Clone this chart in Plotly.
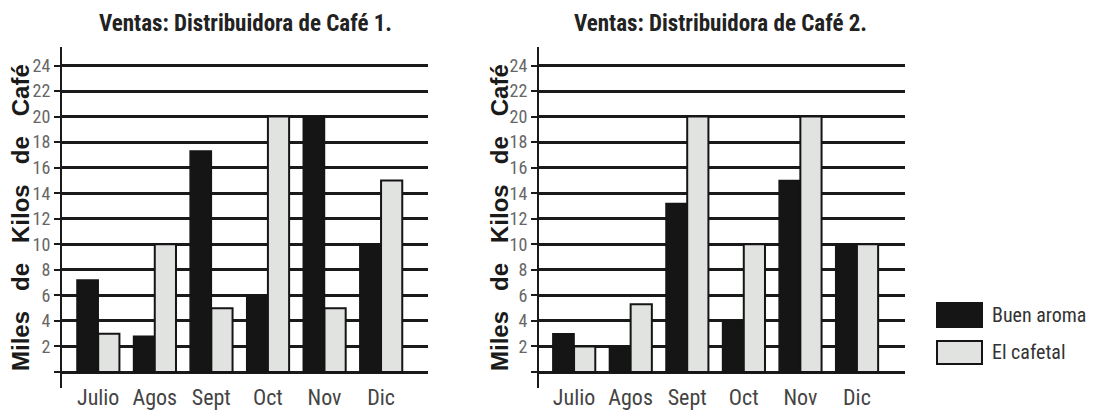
import plotly.graph_objects as go

meses = ["Julio", "Agos", "Sept", "Oct", "Nov", "Dic"]
series_names = ["Buen aroma", "El cafetal"]
d1_buen_aroma = [7.2, 2.8, 17.3, 6, 20, 10]
d1_el_cafetal = [3, 10, 5, 20, 5, 15]
d2_buen_aroma = [3, 2, 13.2, 4, 15, 10]
d2_el_cafetal = [2, 5.3, 20, 10, 20, 10]
y_ticks = list(range(0, 25, 2))
y_ticktext = [str(v) if v > 0 else "" for v in y_ticks]
titles = ["Ventas: Distribuidora de Café 1.", "Ventas: Distribuidora de Café 2."]
y_title = "Miles de Kilos de Café"

W, H = 1097, 413
OFF = 8  # page body margin offset
NARROW = "Liberation Sans Narrow, Arial Narrow, Roboto Condensed, Liberation Sans, sans-serif"
DARK = "#151515"
LIGHT = "#e1e3e1"

fig = go.Figure()
for k, (ba, ec) in enumerate([(d1_buen_aroma, d1_el_cafetal), (d2_buen_aroma, d2_el_cafetal)]):
    xa = "x" if k == 0 else "x2"
    ya = "y" if k == 0 else "y2"
    fig.add_trace(go.Bar(x=meses, y=ba, name=series_names[0], xaxis=xa, yaxis=ya,
                         marker=dict(color=DARK, line=dict(color=DARK, width=1.5)),
                         showlegend=False, offsetgroup="a"))
    fig.add_trace(go.Bar(x=meses, y=ec, name=series_names[1], xaxis=xa, yaxis=ya,
                         marker=dict(color=LIGHT, line=dict(color=DARK, width=2)),
                         showlegend=False, offsetgroup="b"))

def px_x(p):
    return (p - OFF) / W

def px_y(p):
    return 1 - (p - OFF) / H

ydom = [px_y(388), px_y(47)]
yrange = [-1.25, 25.45]

xaxis_common = dict(type="category", showline=False, showgrid=False, zeroline=False,
                    ticks="", ticklabelstandoff=-6,
                    tickfont=dict(family=NARROW, size=22, color="#444"),
                    fixedrange=True)
yaxis_common = dict(range=yrange, domain=ydom, tickmode="array", tickvals=y_ticks,
                    ticktext=y_ticktext, showgrid=True, gridcolor="#1a1a1a", gridwidth=2.5,
                    zeroline=False, showline=True, linecolor="#1a1a1a", linewidth=2,
                    ticks="outside", ticklen=6, tickwidth=2, tickcolor="#1a1a1a",
                    tickfont=dict(family=NARROW, size=18, color="#666"), fixedrange=True)

fig.update_layout(
    width=W, height=H,
    margin=dict(l=0, r=0, t=0, b=0),
    paper_bgcolor="white", plot_bgcolor="white",
    barmode="group", bargap=0.25, bargroupgap=0,
    xaxis=dict(xaxis_common, domain=[px_x(62), px_x(428)], range=[-0.64, 5.83], anchor="y"),
    yaxis=dict(yaxis_common, anchor="x"),
    xaxis2=dict(xaxis_common, domain=[px_x(539), px_x(905)], range=[-0.62, 5.85], anchor="y2"),
    yaxis2=dict(yaxis_common, anchor="x2"),
    showlegend=False,
)

ann = []
for xc, t in [(245, titles[0]), (720, titles[1])]:
    ann.append(dict(x=px_x(xc), y=px_y(23), xref="paper", yref="paper", text="<b>" + t + "</b>",
                    showarrow=False, xanchor="center", yanchor="middle",
                    font=dict(family=NARROW, size=23, color="#222")))
gap = "\u00a0" * 3
for xc in [20, 499]:
    ann.append(dict(x=px_x(xc), y=px_y(218), xref="paper", yref="paper",
                    text="<b>" + y_title.replace(" ", gap) + "</b>",
                    textangle=-90, showarrow=False, xanchor="center", yanchor="middle",
                    font=dict(family="Liberation Sans, Arial, sans-serif", size=24, color="#1a1a1a")))

shapes = []
legend_rows = [(303, 327, DARK, series_names[0], 315), (341, 364, LIGHT, series_names[1], 352)]
for y0, y1, col, name, yc in legend_rows:
    shapes.append(dict(type="rect", xref="paper", yref="paper", x0=px_x(937), x1=px_x(982),
                       y0=px_y(y1), y1=px_y(y0), fillcolor=col, line=dict(color=DARK, width=2)))
    ann.append(dict(x=px_x(990), y=px_y(yc), xref="paper", yref="paper", text=name,
                    showarrow=False, xanchor="left", yanchor="middle",
                    font=dict(family=NARROW, size=20, color="#333")))

fig.update_layout(annotations=ann, shapes=shapes)
fig.write_html("out.html")
